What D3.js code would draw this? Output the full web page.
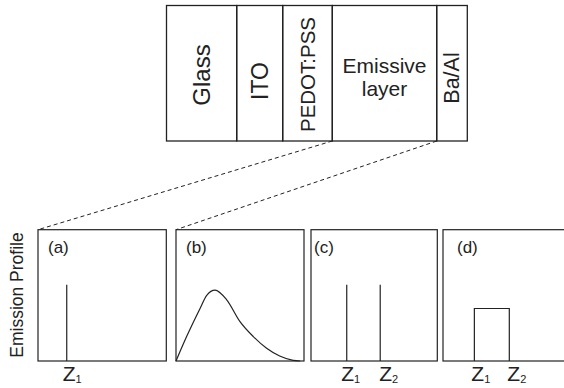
<!DOCTYPE html>
<html>
<head>
<meta charset="utf-8">
<script src="https://cdn.jsdelivr.net/npm/d3@7"></script>
<style>
  body { margin: 0; background: #fff; }
  svg { display: block; }
</style>
</head>
<body>
<svg id="chart" width="564" height="388"></svg>
<script>
// device stack, schematic thickness of each layer
const layerNames = ["Glass", "ITO", "PEDOT:PSS", "Emissive layer", "Ba/Al"];
const layerWidths = [70.2, 46, 49.6, 104.4, 30.6];

// panels: emission profile vs depth (0..100), height 0..1
const panelLabels = ["(a)", "(b)", "(c)", "(d)"];
const deltaA = [22.4];           // (a) single delta at z1
const deltaC = [28.3, 54.8];     // (c) two deltas at z1, z2
const stepD = [24.5, 51.8];      // (d) flat between z1 and z2
const deltaHeight = 0.58;
const stepHeight = 0.4;
// (b)
const curveX = [0, 8.3, 18.8, 24, 30.5, 39.6, 50, 60.4, 70.8, 81, 91.5, 97];
const curveY = [0, 0.186, 0.40, 0.50, 0.54, 0.466, 0.30, 0.186, 0.097, 0.038, 0.005, 0];

const ink = "#222";
const font = "'Liberation Sans', Arial, sans-serif";
const svg = d3.select("#chart");

//------------------------------ device stack

const stack = {left: 166.5, right: 467.3, top: 5.5, bottom: 141};
const edges = layerWidths.reduce((a, w) => a.concat(a[a.length - 1] + w), [0]);
const sx = d3.scaleLinear().domain([0, edges[edges.length - 1]]).range([stack.left, stack.right]);
const labelSize = [24, 23, 20.5, 21, 21.5];

let stackG = svg.append("g");
stackG.selectAll("rect")
  .data(layerNames)
  .enter()
  .append("rect")
  .attr("x", (_, i) => sx(edges[i]))
  .attr("y", stack.top)
  .attr("width", (_, i) => sx(edges[i + 1]) - sx(edges[i]))
  .attr("height", stack.bottom - stack.top)
  .attr("fill", "none")
  .attr("stroke", ink)
  .attr("stroke-width", 1.3);

layerNames.forEach((n, i) => {
  let cx = (sx(edges[i]) + sx(edges[i + 1])) / 2;
  if (n === "Emissive layer") {
    stackG.append("text")
      .attr("x", cx).attr("y", 73)
      .attr("text-anchor", "middle")
      .attr("font-family", font).attr("font-size", labelSize[i]).attr("fill", ink)
      .text("Emissive");
    stackG.append("text")
      .attr("x", cx).attr("y", 96)
      .attr("text-anchor", "middle")
      .attr("font-family", font).attr("font-size", labelSize[i]).attr("fill", ink)
      .text("layer");
    return;
  }
  let cy = [75, 81, 74.5, 0, 78][i];
  stackG.append("text")
    .attr("transform", `translate(${cx},${cy}) rotate(-90)`)
    .attr("text-anchor", "middle")
    .attr("dominant-baseline", "central")
    .attr("font-family", font).attr("font-size", labelSize[i]).attr("fill", ink)
    .text(n);
});

//------------------------------ panels

const panelLeft = [38, 176, 311, 443];
const panelW = [128.3, 128, 126.3, 128];
const pTop = 229.7, pBottom = 361;
const panels = panelLeft.map((l, i) => ({
  x: d3.scaleLinear().domain([0, 100]).range([l, l + panelW[i]]),
  y: d3.scaleLinear().domain([0, 1]).range([pBottom, pTop])
}));

// zoom lines
svg.append("g")
  .selectAll("line")
  .data([[3, 0], [4, 1]])
  .enter()
  .append("line")
  .attr("x1", d => sx(edges[d[0]]))
  .attr("y1", stack.bottom)
  .attr("x2", d => panels[d[1]].x(0))
  .attr("y2", pTop)
  .attr("stroke", ink)
  .attr("stroke-width", 1)
  .attr("stroke-dasharray", "4,3");

let pg = svg.append("g");
pg.selectAll("rect")
  .data(panels)
  .enter()
  .append("rect")
  .attr("x", p => p.x(0))
  .attr("y", pTop)
  .attr("width", p => p.x(100) - p.x(0))
  .attr("height", pBottom - pTop)
  .attr("fill", "none")
  .attr("stroke", ink)
  .attr("stroke-width", 1.2);

pg.selectAll("text.lab")
  .data(panelLabels)
  .enter()
  .append("text")
  .attr("class", "lab")
  .attr("x", (_, i) => panels[i].x(0) + (i === 3 ? 14 : i === 2 ? 3 : 10))
  .attr("y", 253)
  .attr("font-family", font).attr("font-size", 17).attr("fill", ink)
  .text(d => d);

function deltas(p, zs, h) {
  pg.append("g")
    .selectAll("line")
    .data(zs)
    .enter()
    .append("line")
    .attr("x1", d => p.x(d)).attr("x2", d => p.x(d))
    .attr("y1", p.y(0)).attr("y2", p.y(h))
    .attr("stroke", ink)
    .attr("stroke-width", 1.2);
}
deltas(panels[0], deltaA, deltaHeight);
deltas(panels[2], deltaC, deltaHeight);

// (b) curve
const pb = panels[1];
pg.append("path")
  .datum(d3.zip(curveX, curveY))
  .attr("d", d3.line().x(d => pb.x(d[0])).y(d => pb.y(d[1])).curve(d3.curveMonotoneX))
  .attr("fill", "none")
  .attr("stroke", ink)
  .attr("stroke-width", 1.2);

// (d) step
const pd = panels[3];
pg.append("path")
  .attr("d", d3.line()([[pd.x(stepD[0]), pd.y(0)], [pd.x(stepD[0]), pd.y(stepHeight)],
    [pd.x(stepD[1]), pd.y(stepHeight)], [pd.x(stepD[1]), pd.y(0)]]))
  .attr("fill", "none")
  .attr("stroke", ink)
  .attr("stroke-width", 1.2);

// z labels
function zlabel(p, z, sub, dx) {
  let t = pg.append("text")
    .attr("x", p.x(z) + dx)
    .attr("y", 381)
    .attr("font-family", font).attr("font-size", 21).attr("fill", ink)
    .text("Z");
  t.append("tspan")
    .attr("font-size", 11)
    .attr("dy", 2)
    .text(sub);
}
zlabel(panels[0], deltaA[0], "1", -4);
zlabel(panels[2], deltaC[0], "1", -5.5);
zlabel(panels[2], deltaC[1], "2", -1);
zlabel(panels[3], stepD[0], "1", -3);
zlabel(panels[3], stepD[1], "2", -2);

// y title
svg.append("text")
  .attr("transform", `translate(17,295) rotate(-90)`)
  .attr("text-anchor", "middle")
  .attr("dominant-baseline", "central")
  .attr("font-family", font).attr("font-size", 17.5).attr("fill", ink)
  .text("Emission Profile");
</script>
</body>
</html>
